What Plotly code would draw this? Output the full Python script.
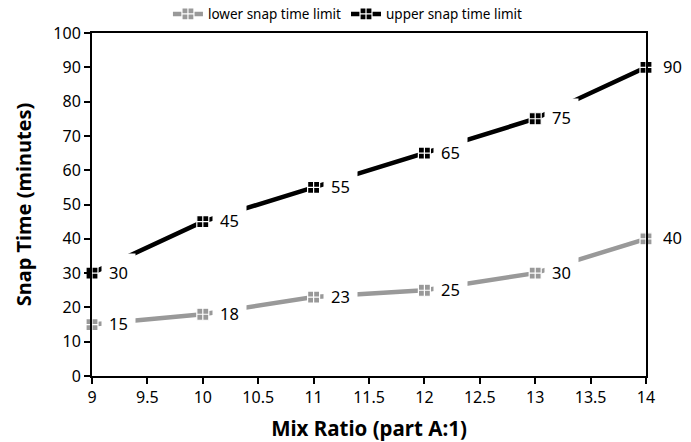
import plotly.graph_objects as go

mix_ratio = [9, 10, 11, 12, 13, 14]
lower_limit = [15, 18, 23, 25, 30, 40]
upper_limit = [30, 45, 55, 65, 75, 90]
lower_name = "lower snap time limit"
upper_name = "upper snap time limit"

FONT = "Noto Sans"
fig = go.Figure()

for name, vals, color in [(lower_name, lower_limit, "#999999"), (upper_name, upper_limit, "#000000")]:
    fig.add_trace(go.Scatter(
        x=mix_ratio, y=vals, name=name, mode="lines+markers",
        line=dict(color=color, width=4.5),
        marker=dict(symbol="square-cross", size=12, color=color,
                    line=dict(color="white", width=1.2)),
        cliponaxis=False,
    ))
    for xv, yv in zip(mix_ratio, vals):
        fig.add_annotation(
            x=xv, y=yv, text=str(yv), showarrow=False,
            xanchor="left", yanchor="middle", xshift=9, yshift=1,
            bgcolor="white", borderpad=7,
            font=dict(family=FONT, size=16.5, color="#000000"),
        )

fig.update_layout(
    width=691, height=442,
    margin=dict(l=92, r=45, t=33, b=66, autoexpand=False),
    paper_bgcolor="white", plot_bgcolor="white",
    font=dict(family=FONT, size=16, color="#000000"),
    legend=dict(orientation="h", x=0.462, xanchor="center", y=1.055, yanchor="middle",
                font=dict(family=FONT, size=13.5), itemwidth=30, tracegroupgap=0,
                bgcolor="rgba(0,0,0,0)"),
    showlegend=True,
)
fig.update_xaxes(
    range=[9, 14], dtick=0.5, showgrid=False, zeroline=False,
    showline=True, linecolor="black", linewidth=2, mirror=True,
    ticks="outside", ticklen=6, tickwidth=2, tickcolor="black",
    title=dict(text="<b>Mix Ratio (part A:1)</b>", font=dict(family=FONT, size=20.5), standoff=14),
)
fig.update_yaxes(
    range=[0, 100], dtick=10, showgrid=False, zeroline=False,
    showline=True, linecolor="black", linewidth=2, mirror=True,
    ticks="outside", ticklen=6, tickwidth=2, tickcolor="black",
    title=dict(text="<b>Snap Time (minutes)</b>", font=dict(family=FONT, size=20), standoff=16),
)

fig.write_html("out.html", config={"displayModeBar": False},
               post_script="document.body.style.margin='0';document.body.style.overflow='hidden';")
